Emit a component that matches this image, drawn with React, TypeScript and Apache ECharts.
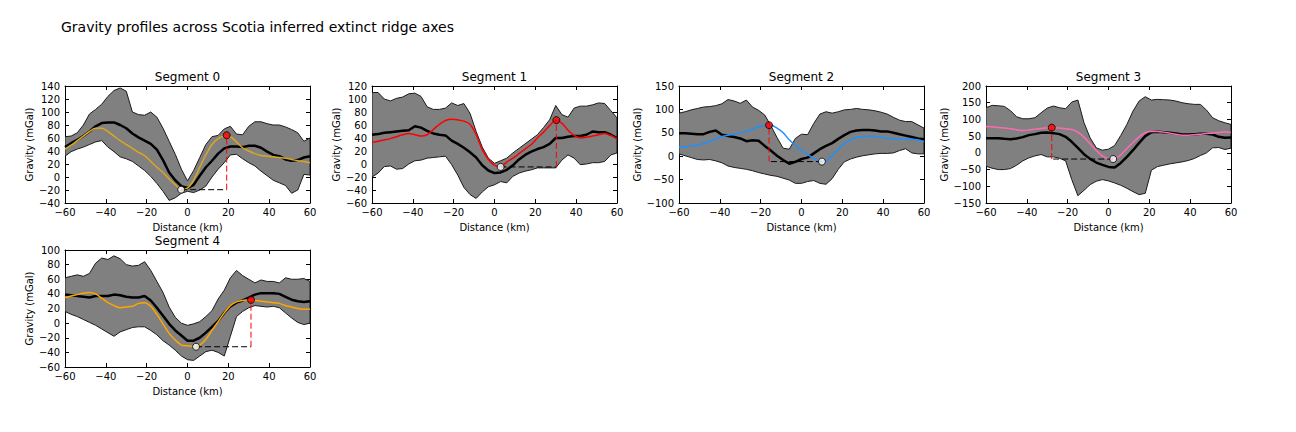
import React, { useEffect, useRef } from 'react';
import * as echarts from 'echarts';

// ---------- data ----------
const DISTANCE_KM = [-60, -57, -54, -51, -48, -45, -42, -39, -36, -33, -30, -27, -24, -21, -18, -15, -12, -9, -6, -3, 0, 3, 6, 9, 12, 15, 18, 21, 24, 27, 30, 33, 36, 39, 42, 45, 48, 51, 54, 57, 60];

const SEG0_UPPER = [62, 63, 68, 80, 97, 104, 112, 124, 133, 137, 132, 100, 96, 95, 100, 92, 75, 55, 35, 12, -6, 10, 30, 50, 62, 64, 74, 78, 66, 65, 78, 85, 85, 82, 80, 80, 77, 73, 68, 55, 60];
const SEG0_LOWER = [32, 39, 43, 46, 50, 54, 56, 46, 39, 31, 28, 24, 17, 10, 1, -10, -22, -36, -32, -25, -22, -24, -20, -14, 0, 12, 22, 34, 35, 28, 22, 17, 9, 2, -5, -9, -13, -25, -20, 4, 3];
const SEG0_MEAN = [46, 52, 57, 63, 70, 78, 83, 84, 84, 80, 75, 67, 61, 56, 51, 42, 26, 7, -5, -14, -17, -12, 2, 15, 25, 36, 44, 47, 47, 46, 48, 48, 45, 39, 34, 32, 27, 25, 26, 30, 32];
const SEG0_MODEL = [43, 49, 56, 63, 70, 75, 75, 70, 63, 56, 50, 44, 38, 33, 24, 15, 7, -3, -12, -19, -17, -5, 15, 34, 50, 59, 63, 62, 54, 45, 40, 36, 33, 32, 31, 30, 29, 27, 25, 24, 22];
const SEG0_MIN = [-3.1, -19.5];
const SEG0_MAX = [19.2, 64.3];

const SEG1_UPPER = [110, 110, 100, 97, 101, 103, 108, 109, 104, 88, 84, 84, 86, 94, 90, 93, 78, 50, 26, 9, 1, 5, 9, 17, 24, 31, 38, 45, 56, 68, 90, 76, 72, 86, 89, 89, 91, 94, 93, 82, 71];
const SEG1_LOWER = [-20, -14, -4, -3, -8, -7, 0, 5, 6, 9, 10, 11, 12, -1, -17, -36, -47, -53, -43, -35, -32, -27, -29, -19, -14, -11, -9, -6, -6, -6, -6, 6, 14, 9, -1, 0, 2, 2, 4, 14, 17];
const SEG1_MEAN = [45, 46, 48, 49, 50, 51, 52, 58, 56, 51, 47, 45, 44, 36, 31, 25, 18, 10, -2, -10, -14, -13, -9, -2, 7, 14, 19, 23, 26, 31, 40, 40, 42, 43, 43, 45, 50, 49, 49, 45, 40];
const SEG1_MODEL = [33, 35, 37, 39, 42, 45, 47, 45, 43, 45, 53, 61, 67, 69, 68, 66, 61, 45, 22, 7, -2, -4, 3, 9, 16, 23, 30, 40, 49, 59, 67, 63, 52, 44, 40, 41, 43, 45, 47, 44, 39];
const SEG1_MIN = [3.0, -4.5];
const SEG1_MAX = [30.3, 67.5];

const SEG2_UPPER = [92, 95, 99, 102, 105, 106, 108, 112, 121, 118, 113, 120, 105, 98, 88, 65, 40, 17, 15, 38, 47, 46, 70, 90, 95, 92, 95, 99, 100, 102, 100, 99, 97, 94, 90, 83, 77, 74, 74, 67, 60];
const SEG2_LOWER = [5, 1, -3, -7, -8, -7, -10, -14, -21, -24, -26, -28, -31, -35, -38, -41, -43, -47, -51, -58, -58, -54, -52, -58, -60, -48, -28, -12, -6, -2, 1, 3, 5, 6, 6, 7, 12, 16, 7, 5, 5];
const SEG2_MEAN = [49, 49, 48, 47, 47, 52, 55, 46, 43, 41, 38, 32, 34, 33, 22, 12, 1, -8, -16, -12, -6, -3, 6, 15, 22, 28, 37, 45, 52, 55, 56, 56, 55, 53, 53, 50, 47, 44, 41, 38, 36];
const SEG2_MODEL = [19, 20, 22, 24, 27, 32, 37, 42, 45, 47, 50, 53, 58, 63, 65, 66, 60, 50, 35, 23, 12, 4, -5, -11, -10, 1, 15, 27, 35, 40, 42, 43, 42, 41, 38, 37, 36, 36, 36, 35, 31];
const SEG2_MIN = [10.0, -11.5];
const SEG2_MAX = [-15.9, 66.2];

const SEG3_UPPER = [135, 142, 141, 139, 126, 108, 102, 102, 105, 120, 134, 140, 135, 132, 152, 158, 90, 45, 15, 8, 11, 22, 52, 85, 125, 155, 168, 158, 160, 159, 158, 155, 150, 147, 145, 145, 128, 105, 96, 90, 85];
const SEG3_LOWER = [-40, -46, -50, -50, -47, -37, -24, -15, -9, -5, -12, -12, -16, -24, -80, -128, -112, -95, -85, -80, -84, -90, -97, -106, -116, -125, -121, -52, -41, -37, -33, -30, -27, -23, -17, -8, 0, 15, 16, 10, 14];
const SEG3_MEAN = [44, 44, 44, 42, 41, 43, 47, 53, 56, 60, 61, 59, 56, 48, 33, 15, -4, -18, -29, -36, -42, -44, -30, -12, 8, 30, 50, 62, 63, 62, 60, 58, 55, 55, 56, 57, 57, 55, 48, 45, 46];
const SEG3_MODEL = [79, 78, 76, 74, 72, 69, 67, 68, 71, 73, 75, 75, 74, 72, 70, 62, 47, 27, 7, -9, -17, -18, -6, 13, 31, 48, 60, 64, 64, 62, 59, 56, 53, 53, 54, 56, 58, 59, 61, 63, 61];
const SEG3_MIN = [2.3, -18.5];
const SEG3_MAX = [-27.8, 75.5];

const SEG4_UPPER = [62, 64, 66, 64, 68, 82, 89, 87, 92, 88, 80, 78, 79, 84, 72, 57, 42, 22, 8, 0, -3, -1, 2, 9, 17, 33, 45, 62, 72, 65, 60, 55, 59, 57, 57, 55, 62, 60, 60, 61, 57];
const SEG4_LOWER = [16, 12, 9, 5, 1, -3, -8, -13, -18, -12, -9, -6, -5, -5, -10, -16, -24, -30, -37, -45, -50, -51, -45, -39, -37, -40, -45, -18, 9, 16, 21, 24, 23, 22, 23, 21, 14, 7, 1, -2, 0];
const SEG4_MEAN = [39, 38, 37, 36, 35, 37, 37, 37, 39, 38, 36, 35, 35, 37, 31, 21, 10, -1, -10, -17, -24, -24, -20, -13, -5, 3, 14, 23, 28, 31, 35, 39, 41, 41, 41, 40, 36, 32, 30, 29, 30];
const SEG4_MODEL = [35, 37, 39, 41, 42, 40, 34, 28, 24, 21, 22, 23, 27, 28, 23, 12, -1, -14, -23, -30, -31, -32, -30, -22, -10, 2, 14, 24, 29, 31, 32, 31, 30, 29, 28, 27, 24, 22, 20, 19, 19];
const SEG4_MIN = [4.2, -32.3];
const SEG4_MAX = [31.1, 31.8];

const SEGMENT_NAMES = ['Segment 0', 'Segment 1', 'Segment 2', 'Segment 3', 'Segment 4'];
const Y_MIN = [-40, -60, -100, -150, -60];
const Y_MAX = [140, 120, 150, 200, 100];
const Y_STEP = [20, 20, 50, 50, 20];
const X_TICKS = { min: -60, max: 60, step: 20 };

const MAIN_TITLE = 'Gravity profiles across Scotia inferred extinct ridge axes';

// ---------- styling / layout ----------
const MODEL_COLORS = ['#DAA520', '#FF0000', '#1E90FF', '#FF69B4', '#FFA500'];
const PANEL_LEFT = [65, 372, 679, 986, 65];
const PANEL_TOP = [86, 86, 86, 86, 250];
const PANEL_W = 245;
const PANEL_H = 117;
const FONT = 'DejaVu Sans';

const SEGMENTS = [
  { upper: SEG0_UPPER, lower: SEG0_LOWER, mean: SEG0_MEAN, model: SEG0_MODEL, min: SEG0_MIN, max: SEG0_MAX },
  { upper: SEG1_UPPER, lower: SEG1_LOWER, mean: SEG1_MEAN, model: SEG1_MODEL, min: SEG1_MIN, max: SEG1_MAX },
  { upper: SEG2_UPPER, lower: SEG2_LOWER, mean: SEG2_MEAN, model: SEG2_MODEL, min: SEG2_MIN, max: SEG2_MAX },
  { upper: SEG3_UPPER, lower: SEG3_LOWER, mean: SEG3_MEAN, model: SEG3_MODEL, min: SEG3_MIN, max: SEG3_MAX },
  { upper: SEG4_UPPER, lower: SEG4_LOWER, mean: SEG4_MEAN, model: SEG4_MODEL, min: SEG4_MIN, max: SEG4_MAX },
];

const minus = (v: number) => String(v).replace('-', '\u2212');

function buildOption() {
  const grid: any[] = [];
  const xAxis: any[] = [];
  const yAxis: any[] = [];
  const series: any[] = [];
  const title: any[] = [
    {
      text: MAIN_TITLE,
      left: 61,
      top: 20,
      padding: 0,
      textStyle: { fontFamily: FONT, fontSize: 14, fontWeight: 'normal', color: '#000' },
    },
  ];

  const tick = { inside: true, length: 4, lineStyle: { color: '#000', width: 1 } };
  const line = { onZero: false, lineStyle: { color: '#000', width: 1 } };

  SEGMENTS.forEach((seg, i) => {
    grid.push({ left: PANEL_LEFT[i], top: PANEL_TOP[i], width: PANEL_W, height: PANEL_H, show: false });
    title.push({
      text: SEGMENT_NAMES[i],
      left: PANEL_LEFT[i] + PANEL_W / 2,
      top: PANEL_TOP[i] - 15,
      padding: 0,
      textAlign: 'center',
      textStyle: { fontFamily: FONT, fontSize: 12, fontWeight: 'normal', color: '#000' },
    });

    const xBase = {
      gridIndex: i,
      type: 'value',
      min: X_TICKS.min,
      max: X_TICKS.max,
      interval: X_TICKS.step,
      axisLine: line,
      axisTick: tick,
      splitLine: { show: false },
    };
    xAxis.push({
      ...xBase,
      position: 'bottom',
      axisLabel: { fontFamily: FONT, fontSize: 10, color: '#000', margin: 4, formatter: minus },
      name: 'Distance (km)',
      nameLocation: 'middle',
      nameGap: 19,
      nameTextStyle: { fontFamily: FONT, fontSize: 10, color: '#000' },
    });
    xAxis.push({ ...xBase, position: 'top', axisLabel: { show: false } });

    const yBase = {
      gridIndex: i,
      type: 'value',
      min: Y_MIN[i],
      max: Y_MAX[i],
      interval: Y_STEP[i],
      axisLine: line,
      axisTick: tick,
      splitLine: { show: false },
    };
    yAxis.push({
      ...yBase,
      position: 'left',
      axisLabel: { fontFamily: FONT, fontSize: 10, color: '#000', margin: 5, formatter: minus },
      name: 'Gravity (mGal)',
      nameLocation: 'middle',
      nameRotate: 90,
      nameGap: 31,
      nameTextStyle: { fontFamily: FONT, fontSize: 10, color: '#000' },
    });
    yAxis.push({ ...yBase, position: 'right', axisLabel: { show: false } });

    const xi = 2 * i;
    const yi = 2 * i;
    const pts = (arr: number[]) => DISTANCE_KM.map((d, k) => [d, arr[k]]);
    const upperPts = pts(seg.upper);
    const lowerPts = pts(seg.lower);

    // envelope band: polygon of upper then reversed lower, placed through the axes
    series.push({
      type: 'custom',
      xAxisIndex: xi,
      yAxisIndex: yi,
      data: [[0, 0]],
      encode: { x: 0, y: 1 },
      clip: true,
      silent: true,
      z: 1,
      renderItem: (_params: any, api: any) => {
        const poly = upperPts.concat(lowerPts.slice().reverse()).map((p) => api.coord(p));
        return {
          type: 'polygon',
          shape: { points: poly },
          style: { fill: '#808080', stroke: '#1a1a1a', lineWidth: 1 },
        };
      },
    });
    // mean profile
    series.push({
      type: 'line', xAxisIndex: xi, yAxisIndex: yi, data: pts(seg.mean),
      symbol: 'none', lineStyle: { width: 2.5, color: '#000' }, silent: true, z: 3,
    });
    // model profile
    series.push({
      type: 'line', xAxisIndex: xi, yAxisIndex: yi, data: pts(seg.model), smooth: 0.3,
      symbol: 'none', lineStyle: { width: 1.5, color: MODEL_COLORS[i] }, silent: true, z: 4,
    });
    // dashed connectors
    series.push({
      type: 'line', xAxisIndex: xi, yAxisIndex: yi,
      data: [[seg.min[0], seg.min[1]], [seg.max[0], seg.min[1]]],
      symbol: 'none', lineStyle: { width: 1, color: '#000', type: [6, 3] }, silent: true, z: 5,
    });
    series.push({
      type: 'line', xAxisIndex: xi, yAxisIndex: yi,
      data: [[seg.max[0], seg.min[1]], [seg.max[0], seg.max[1]]],
      symbol: 'none', lineStyle: { width: 1, color: '#FF0000', type: [6, 3] }, silent: true, z: 5,
    });
    // extrema markers
    series.push({
      type: 'scatter', xAxisIndex: xi, yAxisIndex: yi, data: [seg.max],
      symbol: 'circle', symbolSize: 7,
      itemStyle: { color: '#FF0000', borderColor: '#000', borderWidth: 1 }, silent: true, z: 6,
    });
    series.push({
      type: 'scatter', xAxisIndex: xi, yAxisIndex: yi, data: [seg.min],
      symbol: 'circle', symbolSize: 7,
      itemStyle: { color: '#FFFFFF', borderColor: '#000', borderWidth: 1 }, silent: true, z: 6,
    });
  });

  return {
    animation: false,
    backgroundColor: '#FFFFFF',
    textStyle: { fontFamily: FONT },
    title,
    grid,
    xAxis,
    yAxis,
    series,
  };
}

export default function App() {
  const ref = useRef<HTMLDivElement>(null);
  useEffect(() => {
    if (!ref.current) return;
    const chart = echarts.init(ref.current, undefined, { renderer: 'svg' });
    chart.setOption(buildOption() as any);
    return () => chart.dispose();
  }, []);
  return (
    <div
      ref={ref}
      style={{ position: 'absolute', left: 0, top: 0, width: 1296, height: 432, background: '#fff' }}
    />
  );
}
